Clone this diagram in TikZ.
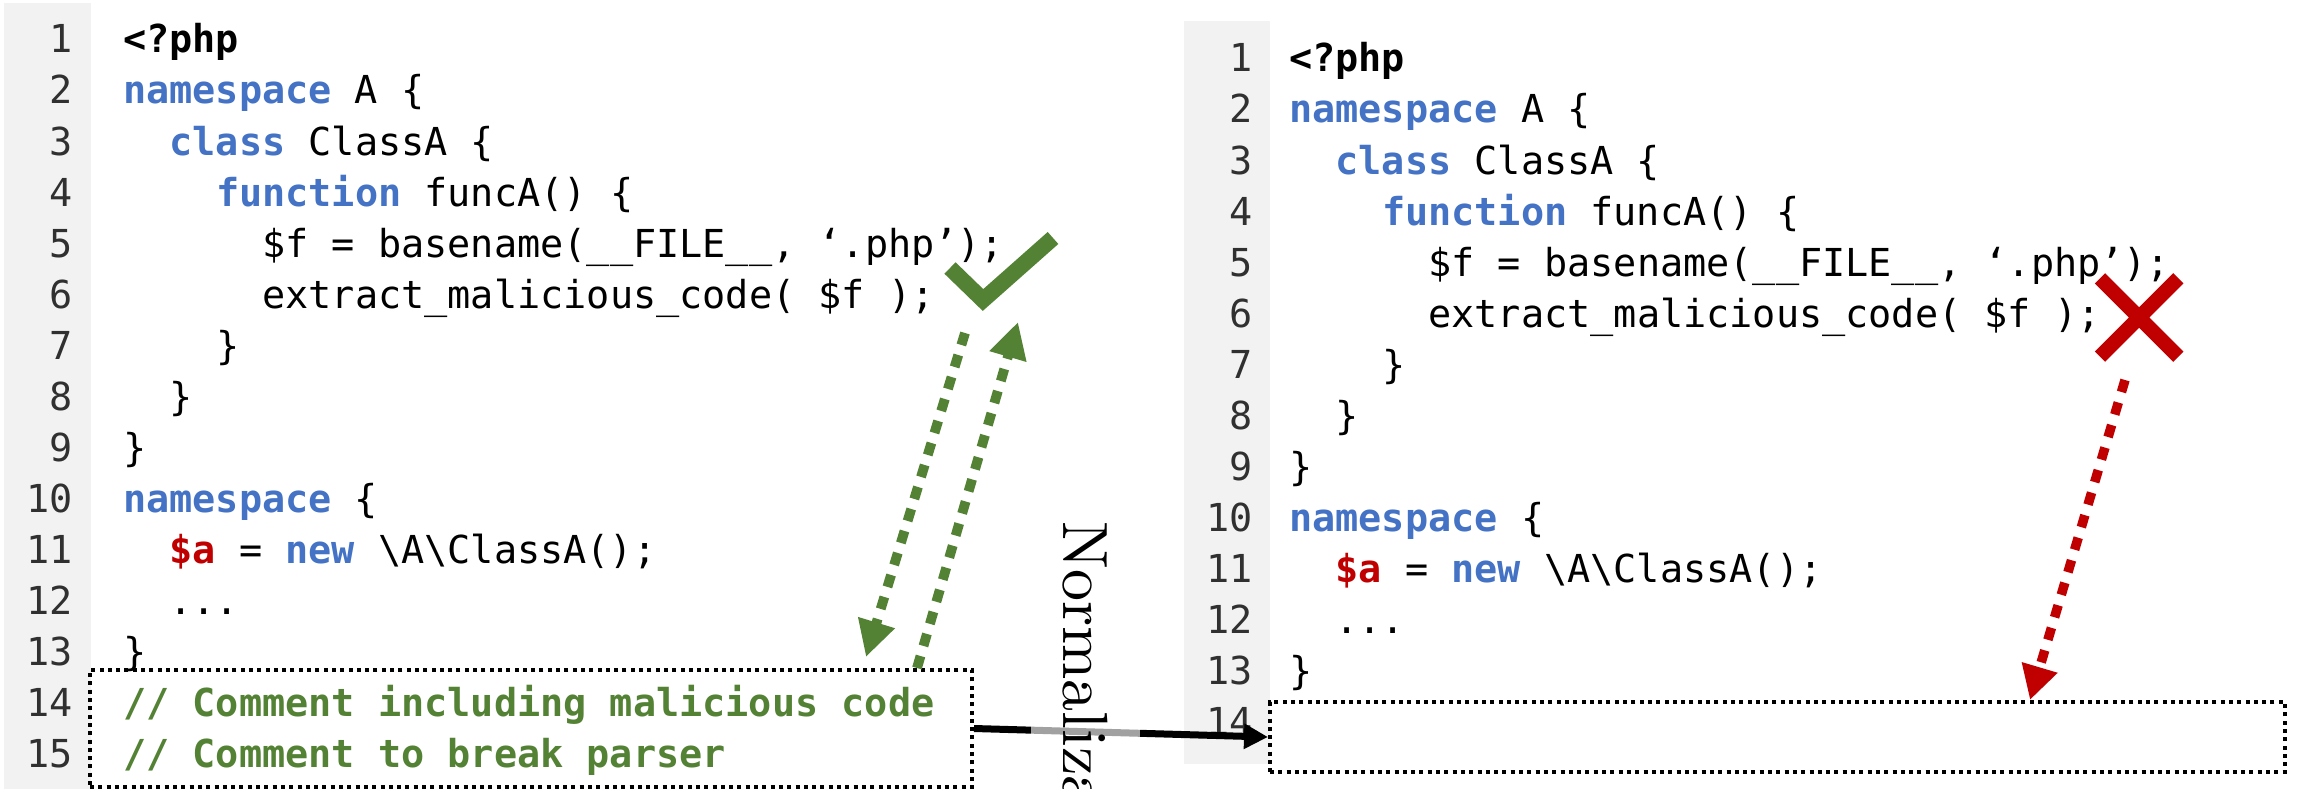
\documentclass[tikz,border=0pt]{standalone}
\usepackage{fontspec}
\usetikzlibrary{arrows.meta}
\newfontfamily\codefont{DejaVu Sans Mono}
\newfontfamily\normfont{lmroman10-regular.otf}
\definecolor{kwblue}{HTML}{4472C4}
\definecolor{varred}{HTML}{C00000}
\definecolor{cmtgreen}{HTML}{548235}
\definecolor{gutterbg}{HTML}{F2F2F2}
\definecolor{lnumcol}{HTML}{303030}
\newcommand\kw[1]{\textbf{\textcolor{kwblue}{#1}}}
\def\cw{23.2}
\def\lh{51}
% #1 prefix, #2 x of code, #3 baseline of line 1
\newcommand\drawphp[3]{%
  \node[codeline] (#1l1) at ({#2},{#3}) {\textbf{<?php}};
  \node[codeline] (#1l2) at ({#2},{#3+\lh}) {\kw{namespace} A \{};
  \node[codeline] (#1l3) at ({#2+2*\cw},{#3+2*\lh}) {\kw{class} ClassA \{};
  \node[codeline] (#1l4) at ({#2+4*\cw},{#3+3*\lh}) {\kw{function} funcA() \{};
  \node[codeline] (#1l5) at ({#2+6*\cw},{#3+4*\lh}) {\$f = basename(\_\_FILE\_\_, ‘.php’);};
  \node[codeline] (#1l6) at ({#2+6*\cw},{#3+5*\lh}) {extract\_malicious\_code( \$f );};
  \node[codeline] (#1l7) at ({#2+4*\cw},{#3+6*\lh}) {\}};
  \node[codeline] (#1l8) at ({#2+2*\cw},{#3+7*\lh}) {\}};
  \node[codeline] (#1l9) at ({#2},{#3+8*\lh}) {\}};
  \node[codeline] (#1l10) at ({#2},{#3+9*\lh}) {\kw{namespace} \{};
  \node[codeline] (#1l11) at ({#2+2*\cw},{#3+10*\lh}) {\textbf{\textcolor{varred}{\$a}} = \kw{new} \textbackslash A\textbackslash ClassA();};
  \node[codeline] (#1l12) at ({#2+2*\cw},{#3+11*\lh}) {...};
  \node[codeline] (#1l13) at ({#2},{#3+12*\lh}) {\}};
}
\tikzset{
  codeline/.style={anchor=base west, inner sep=0pt, font=\codefont\fontsize{38.5pt}{38.5pt}\selectfont},
  lnumber/.style={anchor=base east, inner sep=0pt, text=lnumcol, font=\codefont\fontsize{38.5pt}{38.5pt}\selectfont},
  dotbox/.style={draw=black, line width=4pt, dash pattern=on 4pt off 4.3pt, inner sep=0pt},
  greenarrow/.style={draw=cmtgreen, line width=9.8pt, dash pattern=on 12.5pt off 10.5pt, -{Triangle[length=36pt,width=36pt]}},
  redarrow/.style={draw=varred, line width=9.5pt, dash pattern=on 12.5pt off 11pt, -{Triangle[length=34pt,width=35pt]}},
  normarrow/.style={draw=black, line width=7pt, -{Triangle[length=24pt,width=24pt]}},
}
\begin{document}
\begin{tikzpicture}[x=1pt,y=-1pt]
\useasboundingbox (0,0) rectangle (2298,789);
\fill[white] (0,0) rectangle (2298,789);
% gutters
\fill[gutterbg] (4,3) rectangle (91,789);
\fill[gutterbg] (1184,21) rectangle (1270,764);
% line numbers
\foreach \n in {1,...,15} \node[lnumber] (lnA\n) at (73,{53+\lh*(\n-1)}) {\n};
\foreach \n in {1,...,14} \node[lnumber] (lnB\n) at (1253,{72+\lh*(\n-1)}) {\n};
% code
\drawphp{A}{123}{53}
\node[codeline, text=cmtgreen] (Al14) at (123,{53+13*\lh}) {\textbf{// Comment including malicious code}};
\node[codeline, text=cmtgreen] (Al15) at (123,{53+14*\lh}) {\textbf{// Comment to break parser}};
\drawphp{B}{1289}{72}
% boxes
\node[dotbox, minimum width=882pt, minimum height=117pt] (lbox) at (531,728.5) {};
\node[dotbox, minimum width=1015pt, minimum height=70pt] (rbox) at (1777.5,737) {};
% normalization arrow and label
\draw[normarrow] (lbox.east) -- (rbox.west);
\node[rotate=-90, anchor=west, inner sep=0pt, minimum height=109pt, fill=white, fill opacity=0.63, text opacity=1, font=\normfont\fontsize{64pt}{64pt}\selectfont] (norm) at (1085,521) {Normalization};
% check mark and cross
\draw[cmtgreen, line width=16pt, miter limit=10] (950,268) -- (983,300) -- (1053,238);
\draw[varred, line width=14.5pt] (2100,278.3) -- (2178.3,356.7) (2178.3,278.3) -- (2100,356.7);
% dotted arrows
\coordinate (chkA) at (965,333);
\coordinate (tipA) at (866,657);
\coordinate (tipB) at (1018,322);
\coordinate (crossA) at (2125,380);
\draw[greenarrow] (chkA) -- (tipA);
\draw[greenarrow] (917,0 |- lbox.north) -- (tipB);
\draw[redarrow] (crossA) -- (2030,0 |- rbox.north);
\end{tikzpicture}
\end{document}
